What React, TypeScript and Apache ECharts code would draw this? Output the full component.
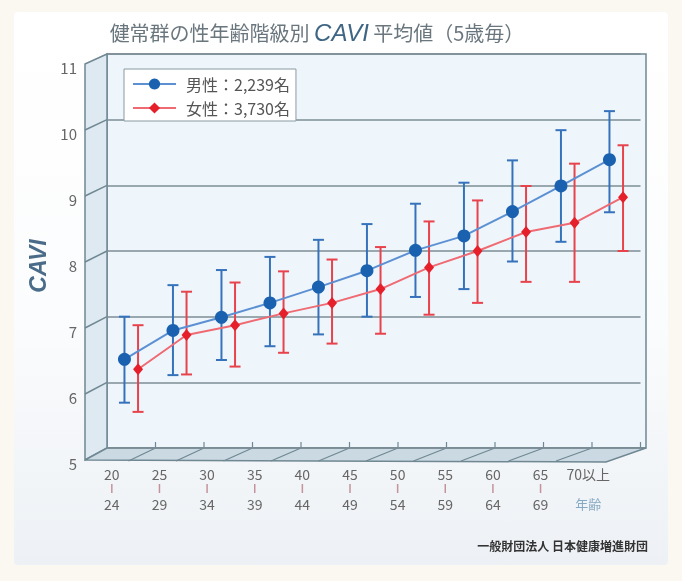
import React, { useEffect, useRef } from "react";
import * as echarts from "echarts";

const categoriesTop = ["20", "25", "30", "35", "40", "45", "50", "55", "60", "65", "70以上"];
const categoriesBottom = ["24", "29", "34", "39", "44", "49", "54", "59", "64", "69", ""];
const yTicks = [5, 6, 7, 8, 9, 10, 11];

const maleName = "男性：2,239名";
const femaleName = "女性：3,730名";

const maleMean = [6.35, 6.79, 6.99, 7.21, 7.45, 7.7, 8.01, 8.23, 8.6, 8.99, 9.39];
const maleLow = [5.69, 6.11, 6.34, 6.55, 6.73, 7.0, 7.3, 7.42, 7.84, 8.14, 8.59];
const maleHigh = [7.0, 7.48, 7.71, 7.91, 8.17, 8.41, 8.72, 9.04, 9.38, 9.84, 10.13];

const femaleMean = [6.2, 6.72, 6.87, 7.05, 7.21, 7.42, 7.75, 8.0, 8.29, 8.43, 8.82];
const femaleLow = [5.55, 6.12, 6.24, 6.45, 6.59, 6.74, 7.03, 7.21, 7.53, 7.53, 8.0];
const femaleHigh = [6.87, 7.38, 7.52, 7.69, 7.87, 8.06, 8.45, 8.77, 8.99, 9.33, 9.61];

// layout constants (pixels)
const BACK_L = 107, BACK_R = 646, BACK_T = 54, BACK_B = 448;
const FRONT_L = 85, FRONT_R = 606, FRONT_T = 64, FRONT_B = 460;
const CAT_W = 48.5;
const OFFSET = 0.14;

const MALE_MARK = "#1a62b0";
const MALE_LINE = "#5c90d3";
const MALE_BAR = "#3672bb";
const FEMALE_MARK = "#e5202b";
const FEMALE_LINE = "#ef6a72";
const FEMALE_BAR = "#e8434c";
const FRAME = "#6f8893";
const FONT = "'Noto Sans CJK JP', 'Noto Sans', sans-serif";

function errorBar(color: string) {
  return (params: any, api: any) => {
    const x = api.value(0);
    const lo = api.coord([x, api.value(1)]);
    const hi = api.coord([x, api.value(2)]);
    const half = 5.5;
    const style = { stroke: color, lineWidth: 2 };
    return {
      type: "group",
      children: [
        { type: "line", shape: { x1: lo[0], y1: lo[1], x2: hi[0], y2: hi[1] }, style },
        { type: "line", shape: { x1: hi[0] - half, y1: hi[1], x2: hi[0] + half, y2: hi[1] }, style },
        { type: "line", shape: { x1: lo[0] - half, y1: lo[1], x2: lo[0] + half, y2: lo[1] }, style },
      ],
    };
  };
}

export default function App() {
  const ref = useRef<HTMLDivElement>(null);
  useEffect(() => {
    if (!ref.current) return;
    const chart = echarts.init(ref.current, undefined, { renderer: "svg" });

    const yf = (v: number) => FRONT_B - ((v - 5) * (FRONT_B - FRONT_T)) / 6;
    const yb = (v: number) => BACK_B - ((v - 5) * (BACK_B - BACK_T)) / 6;
    const lineStyle = { stroke: FRAME, lineWidth: 1.5 };

    const graphics: any[] = [
      { type: "rect", z: -20, shape: { x: 0, y: 0, width: 682, height: 581 }, style: { fill: "#fbf8f2" } },
      {
        type: "rect",
        z: -19,
        shape: { x: 14, y: 12, width: 654, height: 553, r: 4 },
        style: {
          fill: new echarts.graphic.LinearGradient(0, 0, 0, 1, [
            { offset: 0, color: "#ffffff" },
            { offset: 0.55, color: "#fbfcfd" },
            { offset: 1, color: "#edf1f5" },
          ]),
        },
      },
      {
        type: "rect",
        z: -18,
        shape: { x: BACK_L, y: BACK_T, width: BACK_R - BACK_L, height: BACK_B - BACK_T },
        style: { fill: "#eef6fc", stroke: FRAME, lineWidth: 1.5 },
      },
      {
        type: "polygon",
        z: -18,
        shape: { points: [[FRONT_L, FRONT_T], [BACK_L, BACK_T], [BACK_L, BACK_B], [FRONT_L, FRONT_B]] },
        style: { fill: "#dfe9f1", stroke: FRAME, lineWidth: 1.5 },
      },
      {
        type: "polygon",
        z: -18,
        shape: { points: [[FRONT_L, FRONT_B], [BACK_L, BACK_B], [BACK_R, BACK_B], [FRONT_R, FRONT_B + 2]] },
        style: { fill: "#cbd9e2", stroke: FRAME, lineWidth: 1.5 },
      },
    ];
    yTicks.slice(1, -1).forEach((v) => {
      graphics.push({ type: "line", z: -17, shape: { x1: FRONT_L, y1: yf(v), x2: BACK_L, y2: yb(v) }, style: lineStyle });
    });
    for (let k = 1; k <= 11; k++) {
      const xb = BACK_L + CAT_W * k;
      if (k <= 10) {
        const xf = 81 + 47.5 * k;
        graphics.push({ type: "line", z: -17, shape: { x1: xf, y1: FRONT_B + 1, x2: xb, y2: BACK_B }, style: { stroke: FRAME, lineWidth: 1.2 } });
      }
      graphics.push({ type: "line", z: -17, shape: { x1: xb, y1: BACK_B, x2: xb, y2: BACK_B - 6 }, style: { stroke: FRAME, lineWidth: 1.2 } });
    }
    graphics.push(
      {
        type: "text",
        x: 317,
        y: 32,
        style: {
          text: "{t|健常群の性年齢階級別 }{c|CAVI}{t| 平均値（5歳毎）}",
          align: "center",
          verticalAlign: "middle",
          rich: {
            t: { fontSize: 20, fill: "#6a767d", fontFamily: FONT },
            c: { fontSize: 24, fill: "#3f6584", fontStyle: "italic", fontFamily: "'Liberation Sans', sans-serif" },
          },
        },
      },
      {
        type: "text",
        x: 38,
        y: 266,
        rotation: Math.PI / 2,
        style: {
          text: "CAVI",
          align: "center",
          verticalAlign: "middle",
          fontSize: 23,
          fontStyle: "italic",
          fontWeight: "bold",
          fontFamily: "'Liberation Sans Narrow', 'Liberation Sans', sans-serif",
          fill: "#4a6c89",
        },
      },
      {
        type: "text",
        x: 648,
        y: 545,
        style: {
          text: "一般財団法人 日本健康増進財団",
          align: "right",
          verticalAlign: "middle",
          fontSize: 12,
          fontWeight: "bold",
          fontFamily: FONT,
          fill: "#333333",
        },
      }
    );

    chart.setOption({
      animation: false,
      graphic: { elements: graphics },
      legend: {
        data: [maleName, femaleName],
        orient: "vertical",
        left: 124,
        top: 69,
        backgroundColor: "#ffffff",
        borderColor: "#8a9aa2",
        borderWidth: 1,
        borderRadius: 0,
        padding: [7, 6, 5, 8],
        itemWidth: 43,
        itemHeight: 14,
        itemGap: 8,
        textStyle: { fontSize: 16, color: "#555555", fontFamily: FONT, padding: [0, 0, 0, 5] },
      },
      grid: [
        { left: BACK_L, top: BACK_T, width: CAT_W * 11, height: BACK_B - BACK_T },
        { left: 88, top: 67, width: 524, height: 396 },
      ],
      xAxis: [
        { type: "value", gridIndex: 0, min: -0.5, max: 10.5, show: false },
        {
          type: "category",
          gridIndex: 1,
          data: categoriesTop,
          axisLine: { show: false },
          axisTick: { show: false },
          axisLabel: {
            margin: 3,
            interval: 0,
            formatter: (v: string, i: number) =>
              `{a|${v}}\n${categoriesBottom[i] ? "{b| }" : "{e| }"}\n${categoriesBottom[i] ? `{a|${categoriesBottom[i]}}` : "{n|年齢}"}`,
            rich: {
              a: { fontSize: 14, color: "#666666", fontFamily: FONT, lineHeight: 15, align: "center" },
              b: { width: 1.5, height: 9, backgroundColor: "#c4939a", fontSize: 1, lineHeight: 15, align: "center" },
              e: { width: 1.5, height: 9, fontSize: 1, lineHeight: 15, align: "center" },
              n: { fontSize: 13, color: "#86a9c4", fontFamily: FONT, lineHeight: 15, align: "center" },
            },
          },
        },
      ],
      yAxis: [
        {
          type: "value",
          gridIndex: 0,
          min: 5,
          max: 11,
          interval: 1,
          axisLabel: { show: false },
          axisLine: { show: false },
          axisTick: { show: false },
          splitLine: { lineStyle: { color: "#7d8d95", width: 1.5 } },
        },
        {
          type: "value",
          gridIndex: 1,
          min: 5,
          max: 11,
          interval: 1,
          axisLine: { show: false },
          axisTick: { show: false },
          splitLine: { show: false },
          axisLabel: { margin: 11, fontSize: 15, color: "#666666", fontFamily: FONT },
        },
      ],
      series: [
        {
          type: "custom",
          name: "femaleErr",
          xAxisIndex: 0,
          yAxisIndex: 0,
          z: 2,
          renderItem: errorBar(FEMALE_BAR),
          encode: { x: 0, y: [1, 2] },
          data: femaleLow.map((lo, i) => [i + OFFSET, lo, femaleHigh[i]]),
        },
        {
          type: "custom",
          name: "maleErr",
          xAxisIndex: 0,
          yAxisIndex: 0,
          z: 2,
          renderItem: errorBar(MALE_BAR),
          encode: { x: 0, y: [1, 2] },
          data: maleLow.map((lo, i) => [i - OFFSET, lo, maleHigh[i]]),
        },
        {
          type: "line",
          name: femaleName,
          xAxisIndex: 0,
          yAxisIndex: 0,
          z: 3,
          symbol: "diamond",
          symbolSize: [10, 12],
          itemStyle: { color: FEMALE_MARK },
          lineStyle: { color: FEMALE_LINE, width: 2 },
          data: femaleMean.map((v, i) => [i + OFFSET, v]),
        },
        {
          type: "line",
          name: maleName,
          xAxisIndex: 0,
          yAxisIndex: 0,
          z: 4,
          symbol: "circle",
          symbolSize: 13,
          itemStyle: { color: MALE_MARK },
          lineStyle: { color: MALE_LINE, width: 2 },
          data: maleMean.map((v, i) => [i - OFFSET, v]),
        },
      ],
    });
    return () => chart.dispose();
  }, []);
  return <div ref={ref} style={{ position: "fixed", left: 0, top: 0, width: 682, height: 581 }} />;
}
